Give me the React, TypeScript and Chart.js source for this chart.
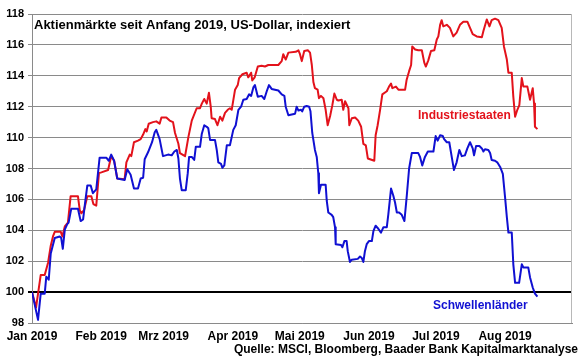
import { useEffect, useRef } from "react";
import { Chart, registerables } from "chart.js";

Chart.register(...registerables);

// ---- Data (x = days since 1 Jan 2019, y = index, start = 100) ----
const MONTH_DAYS = [0, 31, 59, 90, 120, 151, 181, 212];
const MONTH_LABELS = ["Jan 2019", "Feb 2019", "Mrz 2019", "Apr 2019", "Mai 2019", "Jun 2019", "Jul 2019", "Aug 2019"];
const X_MAX_DAY = 242;
const Y_MIN = 98;
const Y_MAX = 118;
const Y_STEP = 2;

const TITLE = "Aktienmärkte seit Anfang 2019, US-Dollar, indexiert";
const SOURCE = "Quelle: MSCI, Bloomberg, Baader Bank Kapitalmarktanalyse";
const RED_NAME = "Industriestaaten";
const BLUE_NAME = "Schwellenländer";
const RED_LABEL_AT = [173.0, 111.4];
const BLUE_LABEL_AT = [179.7, 99.15];

const RED_DAYS = [
  0, 1.8, 3.9, 5.7, 7.2, 8.4, 9.4, 10.2, 12.9, 13.6,
  14.7, 16.1, 17.3, 20.6, 21.4, 22.1, 23.3, 24.8, 26.6, 27.5,
  28.8, 30.0, 31.1, 34.1, 35.5, 36.8, 38.2, 41.5, 42.3, 43.8,
  44.5, 45.7, 47.5, 48.7, 49.8, 50.8, 51.4, 52.3, 54.2, 55.7,
  57.2, 58.0, 60.2, 61.7, 63.2, 64.1, 65.6, 66.3, 68.6, 70.1,
  71.6, 73.8, 75.3, 76.1, 77.2, 78.3, 79.3, 80.1, 80.5, 82.0,
  83.1, 84.3, 85.3, 86.5, 87.7, 88.7, 89.5, 91.0, 92.2, 92.8,
  94.3, 96.2, 96.9, 98.2, 98.7, 99.8, 101.2, 102.9, 104.4, 105.9,
  110.4, 111.9, 112.6, 113.7, 114.9, 118.2, 119.4, 120.1, 120.9, 122.0,
  123.6, 124.6, 125.4, 126.1, 126.8, 128.0, 128.6, 129.5, 130.6, 131.6,
  132.5, 133.6, 134.6, 135.5, 136.6, 137.3, 138.8, 139.5, 140.3, 141.8,
  142.2, 143.3, 144.8, 146.2, 147.5, 148.5, 149.6, 150.5, 153.4, 154.0,
  154.9, 156.0, 157.0, 159.0, 160.0, 160.9, 161.5, 163.1, 164.2, 167.2,
  167.9, 169.0, 169.9, 170.4, 171.7, 173.1, 174.7, 175.8, 176.5, 177.6,
  178.8, 180.3, 181.4, 182.1, 182.9, 183.6, 184.3, 185.9, 187.3, 188.8,
  190.3, 191.8, 193.3, 195.1, 196.3, 197.5, 199.3, 201.6, 202.3, 203.8,
  205.0, 206.0, 207.5, 209.0, 210.5, 211.5, 212.8, 213.5, 215.0, 215.7,
  216.5, 217.5, 218.4, 219.5, 220.2, 222.0, 223.2, 224.4, 225.0, 225.4,
  226.5,
];
const RED_VALUES = [
  100, 99.0, 101.1, 101.1, 101.9, 103.0, 103.6, 103.9, 103.9, 103.6,
  104.25, 104.5, 106.2, 106.2, 105.3, 105.1, 105.3, 106.2, 106.2, 105.7,
  105.6, 107.7, 107.75, 107.9, 108.8, 108.5, 107.35, 107.3, 108.4, 108.9,
  108.8, 109.7, 109.8, 109.9, 110.2, 110.55, 110.4, 110.9, 111.0, 111.05,
  110.9, 111.3, 111.3, 111.1, 111.0, 110.3, 109.6, 109.0, 108.8, 110.05,
  111.1, 111.9, 111.9, 112.2, 112.5, 112.2, 112.9, 112.0, 111.25, 111.2,
  110.8, 111.35, 111.1, 111.6, 111.8, 111.9, 111.8, 113.1, 113.4, 113.85,
  114.1, 114.2, 113.9, 114.2, 113.7, 113.9, 114.6, 114.65, 114.6, 114.7,
  114.7, 114.95, 115.4, 115.05, 115.5, 115.55, 115.65, 115.4, 114.95, 115.6,
  115.65, 115.5, 114.7, 113.6, 113.2, 113.1, 112.55, 112.7, 112.55, 111.8,
  110.8, 111.4, 112.1, 112.85, 112.45, 112.4, 112.45, 111.8, 112.35, 111.9,
  110.8, 111.25, 111.3, 111.1, 110.7, 109.6, 109.5, 108.65, 108.5, 110.15,
  110.8, 111.8, 112.8, 113.0, 113.3, 113.5, 113.2, 113.3, 113.1, 113.1,
  113.75, 114.3, 114.7, 115.9, 115.7, 115.65, 115.65, 114.85, 114.6, 115.0,
  115.6, 115.65, 116.35, 116.55, 117.3, 117.6, 117.2, 117.3, 117.1, 116.55,
  116.8, 117.3, 117.5, 117.5, 117.1, 116.7, 116.55, 116.5, 116.9, 117.65,
  117.2, 117.6, 117.7, 117.6, 117.1, 115.9, 115.05, 114.2, 114.2, 112.65,
  111.35, 111.8, 112.1, 113.85, 113.3, 113.3, 112.45, 113.2, 112.2, 110.7,
  110.55,
];

const BLUE_DAYS = [
  0, 2.7, 3.9, 5.7, 6.4, 7.5, 8.4, 10.2, 12.4, 13.1,
  13.8, 14.7, 15.8, 16.4, 17.6, 20.6, 21.8, 22.9, 23.9, 24.8,
  26.3, 27.3, 28.8, 30.3, 33.3, 34.4, 35.5, 36.8, 38.2, 41.5,
  42.7, 44.2, 45.7, 47.5, 48.7, 49.8, 50.5, 52.0, 53.8, 55.0,
  55.7, 57.2, 58.7, 61.0, 62.6, 63.8, 64.9, 65.6, 66.3, 67.1,
  68.9, 69.8, 70.4, 71.6, 72.7, 73.4, 75.3, 76.1, 77.2, 78.3,
  79.0, 79.8, 82.0, 82.8, 83.5, 84.7, 85.3, 86.2, 87.3, 88.7,
  90.2, 91.3, 92.5, 93.7, 94.7, 96.2, 97.3, 98.2, 99.2, 99.9,
  101.2, 102.9, 104.1, 105.2, 106.2, 107.4, 108.9, 110.4, 111.9, 113.1,
  113.7, 114.9, 116.4, 117.9, 118.6, 119.4, 120.6, 121.1, 122.0, 123.1,
  124.2, 124.8, 125.6, 126.8, 127.6, 128.3, 128.6, 129.5, 131.6, 132.1,
  132.8, 134.3, 135.0, 135.8, 136.1, 138.5, 139.1, 140.0, 141.0, 141.5,
  142.5, 143.3, 146.0, 147.0, 147.8, 148.5, 149.2, 150.0, 151.0, 152.3,
  153.0, 154.0, 155.2, 156.4, 157.5, 159.0, 159.7, 160.9, 161.9, 162.7,
  163.5, 164.5, 165.7, 166.9, 167.9, 169.0, 170.2, 173.1, 173.9, 174.9,
  176.1, 177.4, 179.9, 180.9, 181.8, 182.9, 184.1, 184.7, 185.9, 187.0,
  188.1, 189.1, 190.3, 191.5, 192.6, 194.0, 195.1, 196.3, 197.5, 198.1,
  199.0, 200.5, 201.6, 202.3, 203.0, 204.5, 205.3, 206.0, 207.5, 208.5,
  209.8, 211.0, 212.0, 212.8, 213.5, 215.0, 215.7, 216.5, 218.3, 219.5,
  220.2, 222.4, 223.2, 224.4, 225.4, 226.5,
];
const BLUE_VALUES = [
  100, 98.2, 99.9, 99.9, 101.0, 100.8, 102.5, 103.5, 103.6, 103.5,
  102.8, 104.05, 104.4, 104.5, 105.4, 105.4, 104.6, 104.7, 105.9, 106.9,
  106.9, 106.4, 106.65, 108.7, 108.7, 108.5, 108.9, 108.5, 107.35, 107.25,
  107.95, 107.6, 106.7, 106.7, 107.35, 107.4, 108.6, 109.05, 109.7, 110.35,
  110.5, 109.9, 108.8, 108.9, 108.85, 109.1, 109.2, 108.65, 107.35, 106.6,
  106.6, 107.7, 108.75, 108.75, 108.55, 109.4, 109.4, 110.25, 110.8, 110.7,
  110.6, 109.85, 109.85, 109.2, 108.4, 108.3, 108.05, 108.2, 109.5, 109.5,
  110.5, 110.8, 111.8, 112.0, 112.45, 112.5, 112.8, 112.7, 113.25, 113.4,
  112.65, 112.7, 112.5, 113.0, 113.4, 113.15, 113.1, 113.05, 112.8, 112.7,
  112.0, 111.45, 111.5, 111.55, 112.0, 111.75, 111.8, 111.7, 112.0, 112.05,
  112.0, 111.7, 110.3, 109.2, 108.75, 107.7, 106.4, 106.95, 106.95, 105.9,
  105.15, 105.0, 104.85, 104.2, 103.1, 103.05, 102.9, 103.3, 103.3, 102.65,
  101.95, 102.1, 102.15, 102.3, 102.2, 101.95, 102.65, 103.1, 103.3, 103.3,
  103.95, 104.3, 104.1, 103.85, 104.2, 104.2, 105.05, 106.7, 106.25, 105.8,
  105.15, 105.15, 105.0, 104.6, 106.15, 108.0, 109.0, 109.0, 108.75, 108.2,
  108.75, 109.1, 109.1, 110.1, 109.8, 110.15, 110.1, 109.9, 109.7, 109.7,
  108.75, 107.9, 108.4, 109.2, 108.8, 108.85, 109.3, 109.7, 109.3, 108.85,
  109.45, 109.45, 109.3, 109.1, 109.25, 109.2, 109.0, 108.55, 108.5, 108.4,
  108.1, 107.65, 106.15, 104.85, 103.85, 103.85, 101.8, 100.6, 100.6, 101.8,
  101.6, 101.6, 100.95, 100.3, 99.9, 99.7,
];

// ---- Styling ----
const FONT = '"Liberation Sans", Arial, Helvetica, sans-serif';
const RED = "#e3121b";
const BLUE = "#1010d2";
const GRID = "#8a8a8a";
const FRAME = "#b8b8b8";

export default function App() {
  const ref = useRef<HTMLCanvasElement>(null);

  useEffect(() => {
    document.body.style.margin = "0";
    const canvas = ref.current;
    if (!canvas) return;

    const overlay = {
      id: "overlay",
      afterDraw(chart: any) {
        const { ctx, chartArea, scales } = chart;
        const xs = scales.x;
        const ys = scales.y;
        ctx.save();
        // right frame line
        ctx.strokeStyle = FRAME;
        ctx.lineWidth = 1;
        ctx.beginPath();
        ctx.moveTo(Math.round(chartArea.right) - 0.5, chartArea.top);
        ctx.lineTo(Math.round(chartArea.right) - 0.5, chartArea.bottom);
        ctx.stroke();

        ctx.textBaseline = "middle";
        // title inside plot area
        ctx.fillStyle = "#000";
        ctx.textAlign = "left";
        ctx.font = `bold 13px ${FONT}`;
        ctx.fillText(TITLE, chartArea.left + 2, chartArea.top + 11);

        // series labels
        ctx.font = `bold 12px ${FONT}`;
        ctx.fillStyle = RED;
        ctx.fillText(RED_NAME, xs.getPixelForValue(RED_LABEL_AT[0]), ys.getPixelForValue(RED_LABEL_AT[1]));
        ctx.fillStyle = BLUE;
        ctx.fillText(BLUE_NAME, xs.getPixelForValue(BLUE_LABEL_AT[0]), ys.getPixelForValue(BLUE_LABEL_AT[1]));

        // source line
        ctx.fillStyle = "#000";
        ctx.textAlign = "right";
        ctx.font = `bold 12px ${FONT}`;
        ctx.fillText(SOURCE, chart.width - 2, chart.height - 9);
        ctx.restore();
      },
    };

    const chart = new Chart(canvas, {
      type: "line",
      data: {
        datasets: [
          {
            label: BLUE_NAME,
            data: BLUE_DAYS.map((d, i) => ({ x: d, y: BLUE_VALUES[i] })),
            borderColor: BLUE,
            borderWidth: 2,
            pointRadius: 0,
            tension: 0,
            fill: false,
            borderJoinStyle: "round",
          },
          {
            label: RED_NAME,
            data: RED_DAYS.map((d, i) => ({ x: d, y: RED_VALUES[i] })),
            borderColor: RED,
            borderWidth: 2,
            pointRadius: 0,
            tension: 0,
            fill: false,
            borderJoinStyle: "round",
          },
        ],
      },
      options: {
        responsive: false,
        animation: false,
        devicePixelRatio: 1,
        layout: { padding: { top: 14, right: 8, left: 0, bottom: 16 } },
        plugins: {
          legend: { display: false },
          tooltip: { enabled: false },
          title: { display: false },
        },
        scales: {
          x: {
            type: "linear",
            min: 0,
            max: X_MAX_DAY,
            afterBuildTicks: (s: any) => {
              s.ticks = MONTH_DAYS.map((v) => ({ value: v }));
            },
            afterFit: (s: any) => {
              s.height = 20;
            },
            ticks: {
              autoSkip: false,
              maxRotation: 0,
              minRotation: 0,
              padding: 6,
              color: "#000",
              font: { family: FONT, size: 12, weight: "bold" },
              callback: (v: any) => {
                const i = MONTH_DAYS.indexOf(Number(v));
                return i >= 0 ? MONTH_LABELS[i] : "";
              },
            },
            grid: { display: false, drawTicks: false },
            border: { display: true, color: GRID, width: 1 },
          },
          y: {
            min: Y_MIN,
            max: Y_MAX,
            afterFit: (s: any) => {
              s.width = 32;
            },
            ticks: {
              stepSize: Y_STEP,
              padding: 4,
              color: "#000",
              font: { family: FONT, size: 11, weight: "bold" },
            },
            grid: {
              color: (c: any) => (c.tick && c.tick.value === 100 ? "#000" : GRID),
              lineWidth: (c: any) => (c.tick && c.tick.value === 100 ? 2 : 1),
              tickLength: 4,
              drawTicks: true,
            },
            border: { display: true, color: GRID, width: 1 },
          },
        },
      },
      plugins: [overlay],
    } as any);

    return () => chart.destroy();
  }, []);

  return (
    <div style={{ width: 580, height: 359 }}>
      <canvas ref={ref} width={580} height={359} style={{ display: "block" }} />
    </div>
  );
}
